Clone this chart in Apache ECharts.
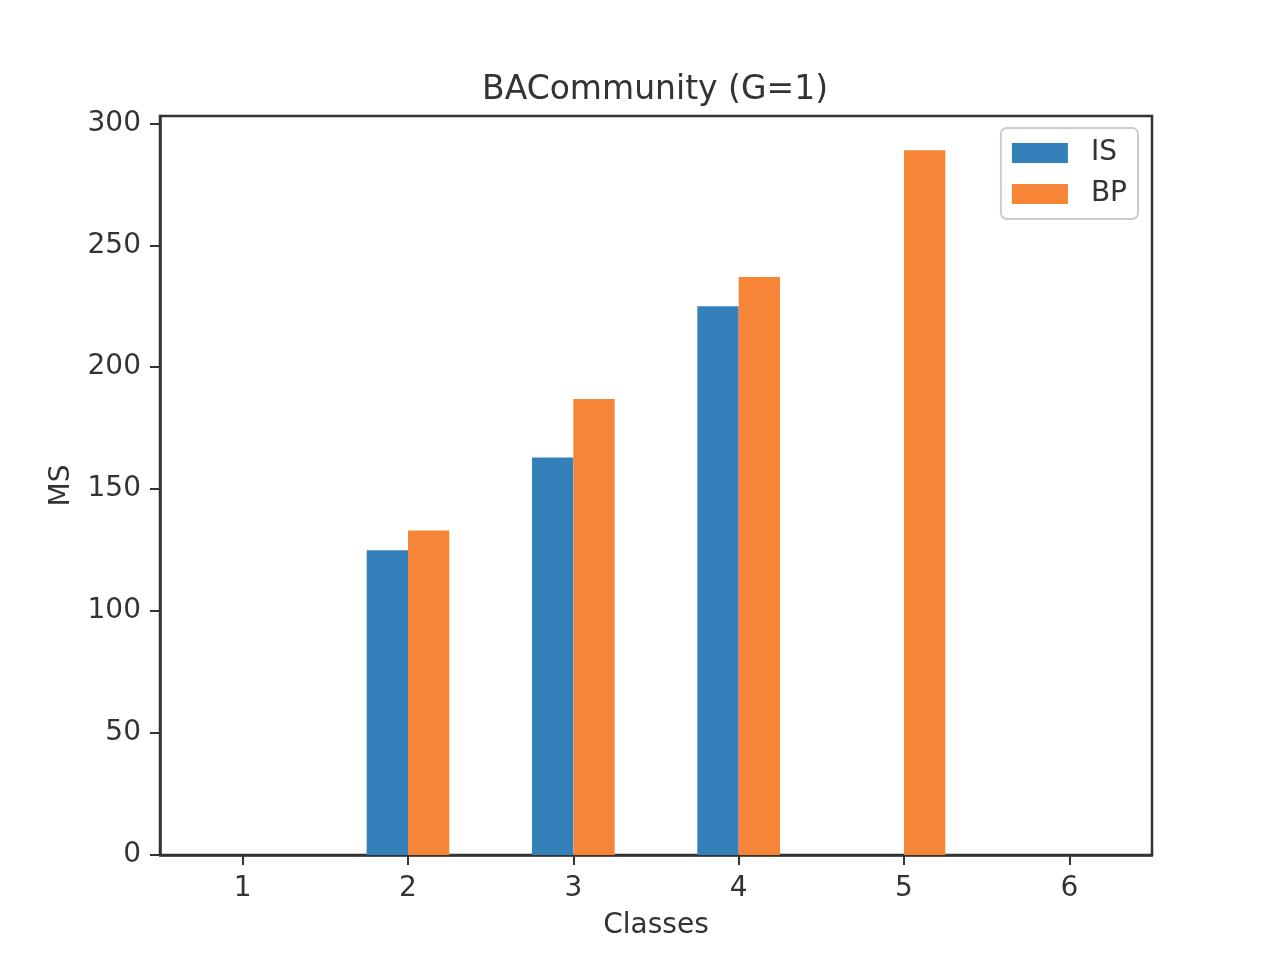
<!DOCTYPE html>
<html>
<head>
<meta charset="utf-8">
<script src="https://cdn.jsdelivr.net/npm/echarts@6/dist/echarts.min.js"></script>
<style>html,body{margin:0;padding:0;background:#fff}#c{width:1280px;height:960px}</style>
</head>
<body>
<div id="c"></div>
<script>
const categories = ['1', '2', '3', '4', '5', '6'];
const isValues = [0, 125, 163, 225, 0, 0];
const bpValues = [0, 133, 187, 237, 289, 0];
const yTicks = [0, 50, 100, 150, 200, 250, 300];

const FONT = 'DejaVu Sans';
const TXT = '#333333';
const chart = echarts.init(document.getElementById('c'));
chart.setOption({
  backgroundColor: '#ffffff',
  animation: false,
  textStyle: { fontFamily: FONT, color: TXT },
  title: {
    text: 'BACommunity (G=1)',
    left: 482, top: 74, padding: 0,
    textStyle: { fontFamily: FONT, fontSize: 33, fontWeight: 'normal', color: TXT }
  },
  legend: {
    orient: 'vertical',
    right: 142, top: 128,
    padding: [11, 11, 11, 11],
    itemWidth: 56, itemHeight: 20, itemGap: 13,
    borderColor: '#cccccc', borderWidth: 2, borderRadius: 6,
    icon: 'rect',
    textStyle: { fontFamily: FONT, fontSize: 28, color: TXT, padding: [0, 0, 0, 18] },
    data: ['IS', 'BP']
  },
  grid: {
    left: 160, right: 128, top: 116, bottom: 105,
    show: true, borderColor: '#333333', borderWidth: 2.5, backgroundColor: 'transparent'
  },
  xAxis: {
    type: 'category',
    data: categories,
    name: 'Classes', nameLocation: 'middle', nameGap: 57,
    nameTextStyle: { fontFamily: FONT, fontSize: 28, color: TXT },
    axisLine: { show: true, lineStyle: { color: '#333333', width: 2.5 } },
    axisTick: { show: true, alignWithLabel: true, length: 10, lineStyle: { color: '#333333', width: 2 } },
    axisLabel: { margin: 20, fontFamily: FONT, fontSize: 28, color: TXT },
    splitLine: { show: false }
  },
  yAxis: {
    type: 'value',
    min: 0, max: 303, interval: 50,
    name: 'MS', nameLocation: 'middle', nameGap: 84,
    nameTextStyle: { fontFamily: FONT, fontSize: 28, color: TXT },
    axisLine: { show: true, lineStyle: { color: '#333333', width: 2.5 } },
    axisTick: { show: true, length: 10, lineStyle: { color: '#333333', width: 2 }, customValues: yTicks },
    axisLabel: { margin: 19, fontFamily: FONT, fontSize: 28, color: TXT, padding: [8, 0, 0, 0], customValues: yTicks },
    splitLine: { show: false }
  },
  series: [
    { name: 'IS', type: 'bar', data: isValues, barGap: '0%', barCategoryGap: '50%', itemStyle: { color: '#3380bb' } },
    { name: 'BP', type: 'bar', data: bpValues, barGap: '0%', barCategoryGap: '50%', itemStyle: { color: '#f68537' } }
  ]
});
</script>
</body>
</html>
